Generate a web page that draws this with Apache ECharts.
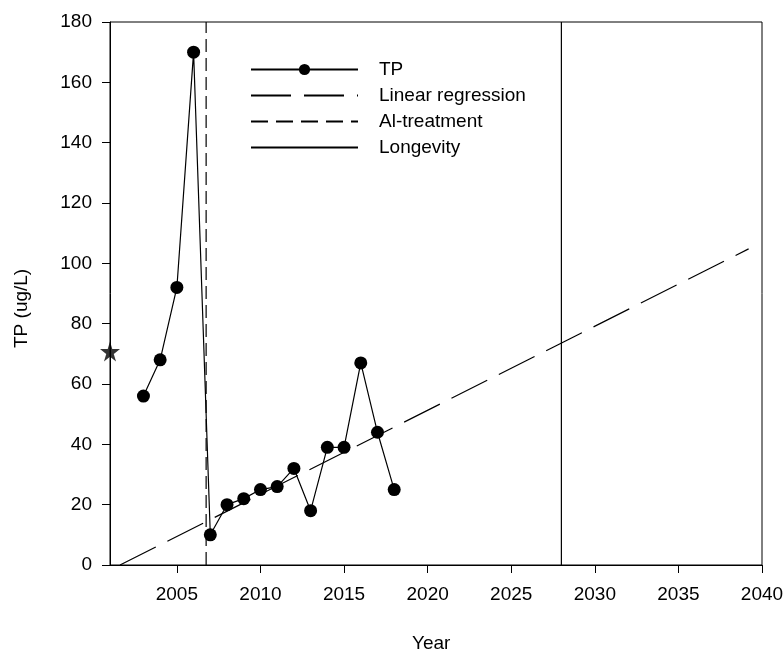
<!DOCTYPE html>
<html>
<head>
<meta charset="utf-8">
<script src="https://cdn.jsdelivr.net/npm/echarts@6/dist/echarts.min.js"></script>
<style>
  html, body { margin: 0; padding: 0; background: #fff; }
  #chart { width: 783px; height: 656px; }
</style>
</head>
<body>
<div id="chart"></div>
<script>
// TP measurements
var years = [2003, 2004, 2005, 2006, 2007, 2008, 2009, 2010, 2011, 2012, 2013, 2014, 2015, 2016, 2017, 2018];
var tpValues = [56, 68, 92, 170, 10, 20, 22, 25, 26, 32, 18, 39, 39, 67, 44, 25];
// starting value (star)
var starPoint = [2001, 70.8];
// regression line end points
var regressionLine = [[2001.6, 0], [2039.2, 104.8]];
var alTreatmentYear = 2006.75;
var longevityYear = 2028;
var xTicks = [2005, 2010, 2015, 2020, 2025, 2030, 2035, 2040];

var font = '"Liberation Sans", Arial, sans-serif';
var starPath = 'path://M50,0 L61,35 L98,35 L68,57 L79,91 L50,70 L21,91 L32,57 L2,35 L39,35 Z';
var noSymbol = { opacity: 0, color: 'rgba(0,0,0,0)', borderWidth: 0 };

var myChart = echarts.init(document.getElementById('chart'));

var option = {
  backgroundColor: '#fff',
  animation: false,
  grid: {
    left: 110,
    top: 22,
    right: 21,
    bottom: 91,
    outerBoundsMode: 'none',
    containLabel: false,
    show: true,
    borderColor: '#000',
    borderWidth: 1
  },
  legend: {
    orient: 'vertical',
    left: 245,
    top: 55,
    itemWidth: 107,
    itemHeight: 14,
    itemGap: 7,
    data: [
      { name: 'TP' },
      { name: 'Linear regression', itemStyle: noSymbol },
      { name: 'Al-treatment', itemStyle: noSymbol, lineStyle: { type: [17, 8] } },
      { name: 'Longevity', itemStyle: noSymbol }
    ],
    textStyle: {
      color: '#000',
      fontSize: 19,
      fontFamily: font,
      padding: [0, 0, 0, 16]
    },
    selectedMode: false
  },
  xAxis: {
    type: 'value',
    min: 2001,
    max: 2040,
    splitLine: { show: false },
    axisLine: { lineStyle: { color: '#000', width: 1 } },
    axisTick: {
      show: true,
      inside: false,
      length: 8,
      customValues: xTicks,
      lineStyle: { color: '#000' }
    },
    axisLabel: {
      customValues: xTicks,
      formatter: function (v) { return String(v); },
      color: '#000',
      fontSize: 19,
      fontFamily: font,
      margin: 20
    }
  },
  yAxis: {
    type: 'value',
    min: 0,
    max: 180,
    interval: 20,
    splitLine: { show: false },
    axisLine: { show: true, lineStyle: { color: '#000', width: 1 } },
    axisTick: { show: true, length: 8, lineStyle: { color: '#000' } },
    axisLabel: {
      color: '#000',
      fontSize: 19,
      fontFamily: font,
      margin: 18
    }
  },
  graphic: [
    {
      type: 'text',
      left: 412,
      top: 634,
      style: { text: 'Year', fill: '#000', font: '19px ' + font }
    },
    {
      type: 'text',
      x: 12,
      y: 348,
      rotation: Math.PI / 2,
      style: { text: 'TP (ug/L)', fill: '#000', font: '19px ' + font }
    }
  ],
  series: [
    {
      name: 'TP',
      type: 'line',
      data: years.map(function (y, i) { return [y, tpValues[i]]; }),
      symbol: 'circle',
      symbolSize: 13,
      itemStyle: { color: '#000' },
      lineStyle: { color: '#000', width: 1.2 },
      z: 5
    },
    {
      name: 'Linear regression',
      type: 'line',
      data: regressionLine,
      symbol: 'none',
      lineStyle: { color: '#000', width: 1.2, type: [40, 13] },
      itemStyle: { color: '#000' }
    },
    {
      name: 'Al-treatment',
      type: 'line',
      data: [[alTreatmentYear, 0], [alTreatmentYear, 180]],
      symbol: 'none',
      lineStyle: { color: '#000', width: 1.2, type: [13, 6] },
      itemStyle: { color: '#000' }
    },
    {
      name: 'Longevity',
      type: 'line',
      data: [[longevityYear, 0], [longevityYear, 180]],
      symbol: 'none',
      lineStyle: { color: '#000', width: 1.2 },
      itemStyle: { color: '#000' }
    },
    {
      name: 'start',
      type: 'scatter',
      data: [starPoint],
      symbol: starPath,
      symbolSize: 20,
      itemStyle: { color: '#000' },
      clip: false,
      z: 6
    }
  ]
};
option && myChart.setOption(option);
</script>
</body>
</html>
